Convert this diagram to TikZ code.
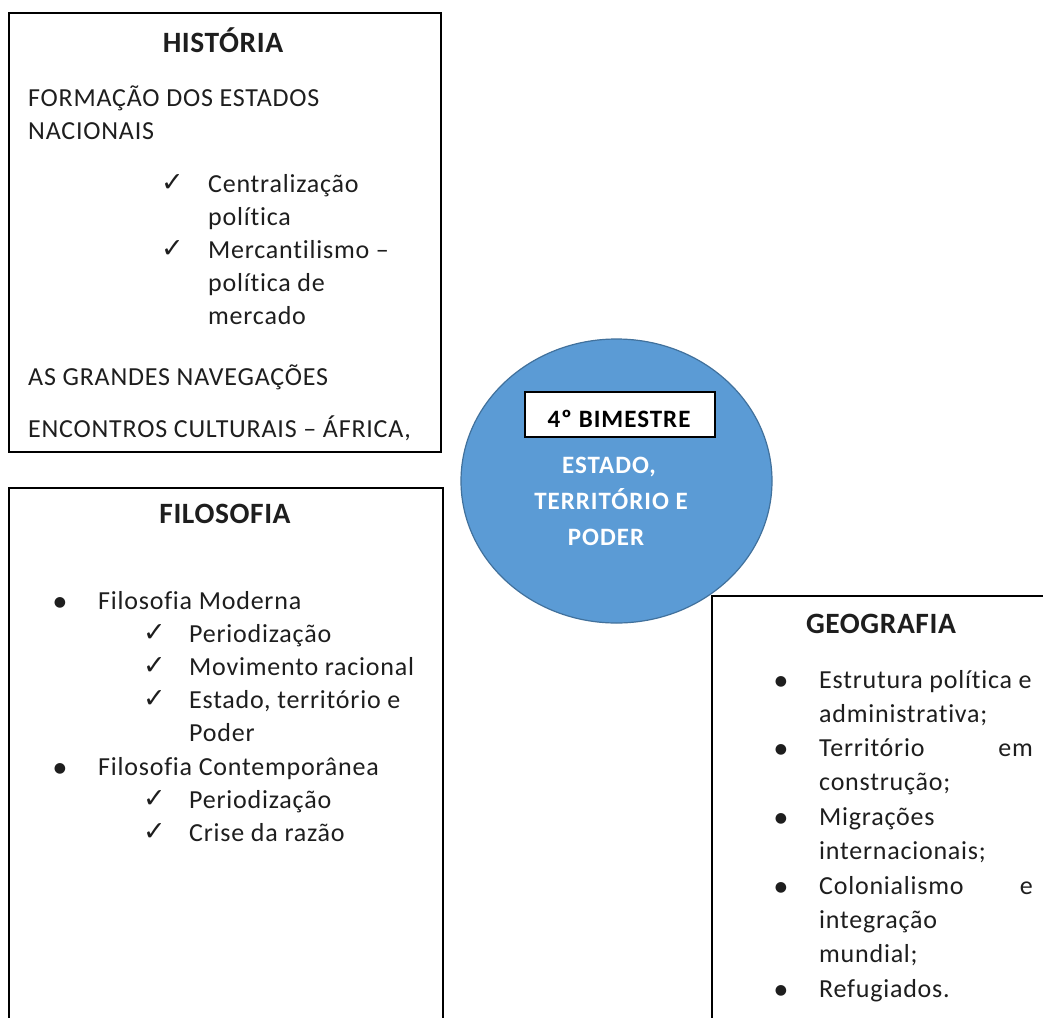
\documentclass[tikz,border=0pt]{standalone}
\usepackage{fontspec}
\usetikzlibrary{shapes.geometric}
\setmainfont{Carlito}
\newfontfamily\bodyfont[LetterSpace=3,Ligatures=NoCommon]{Carlito}
\newfontfamily\ttlfont[LetterSpace=2]{Carlito}
\newfontfamily\ctrfont[LetterSpace=4]{Carlito}
\newfontfamily\symfont{DejaVu Sans}
\definecolor{circfill}{HTML}{5B9BD5}
\definecolor{circline}{HTML}{41719C}
\definecolor{ink}{HTML}{1E1E1E}
\begin{document}
\begin{tikzpicture}[x=1pt,y=-1pt,
  body/.style={anchor=base west,inner sep=0pt,text=ink,font=\bodyfont\fontsize{26}{30}\selectfont},
  bodyr/.style={anchor=base east,inner sep=0pt,text=ink,font=\bodyfont\fontsize{26}{30}\selectfont},
  ttl/.style={anchor=base,inner sep=0pt,text=ink,font=\ttlfont\fontsize{29.5}{34}\selectfont\bfseries},
  chk/.style={anchor=base west,inner sep=0pt,text=ink,font=\symfont\fontsize{27}{30}\selectfont},
  bul/.style={anchor=center,inner sep=0pt,text=ink,font=\symfont\fontsize{14}{16}\selectfont},
  panel/.style={draw=black,line width=2pt,fill=white},
  ctr/.style={anchor=base,inner sep=0pt,font=\ctrfont\fontsize{25}{28}\selectfont\bfseries}]
\clip (0,0) rectangle (1043,1017);
\fill[white] (0,0) rectangle (1043,1017);

% ---------------- HISTORIA ----------------
\draw[panel] (9,12.5) rectangle (441,451.5);
\node[ttl] (histT) at (223,52) {HISTÓRIA};
\node[body] (h1) at (28,106) {FORMAÇÃO DOS ESTADOS};
\node[body] (h2) at (28,139) {NACIONAIS};
\node[chk] (hc1) at (161,191) {✓};
\node[body] (h3) at (208,192) {Centralização};
\node[body] (h4) at (208,225) {política};
\node[chk] (hc2) at (161,257) {✓};
\node[body] (h5) at (208,258) {Mercantilismo –};
\node[body] (h6) at (208,291) {política de};
\node[body] (h7) at (208,324) {mercado};
\node[body] (h8) at (28,385) {AS GRANDES NAVEGAÇÕES};
\node[body] (h9) at (28,437) {ENCONTROS CULTURAIS – ÁFRICA,};

% ---------------- FILOSOFIA ----------------
\draw[panel] (9,488) rectangle (443,1040);
\node[ttl] (filT) at (225,523) {FILOSOFIA};
\node[bul] (fb1) at (60,603) {●};
\node[body] (f1) at (98,609) {Filosofia Moderna};
\node[chk] (fc1) at (143,641) {✓};
\node[body] (f2) at (189,642) {Periodização};
\node[chk] (fc2) at (143,674) {✓};
\node[body] (f3) at (189,675) {Movimento racional};
\node[chk] (fc3) at (143,707) {✓};
\node[body] (f4) at (189,708) {Estado, território e};
\node[body] (f5) at (189,741) {Poder};
\node[bul] (fb2) at (60,769) {●};
\node[body] (f6) at (98,775) {Filosofia Contemporânea};
\node[chk] (fc4) at (143,807) {✓};
\node[body] (f7) at (189,808) {Periodização};
\node[chk] (fc5) at (143,840) {✓};
\node[body] (f8) at (189,841) {Crise da razão};

% ---------------- CIRCLE ----------------
\node[draw=circline,fill=circfill,line width=1.2pt,ellipse,minimum width=311pt,minimum height=284pt,inner sep=0pt] (circ) at (616.5,481) {};
\draw[draw=black,line width=2pt,fill=white] (525,392) rectangle (715,437);
\node[ctr,text=black] (bim) at (619,427) {4º BIMESTRE};
\node[ctr,text=white] (c1) at (609,473) {ESTADO,};
\node[ctr,text=white] (c2) at (611,509) {TERRITÓRIO E};
\node[ctr,text=white] (c3) at (606,545) {PODER};

% ---------------- GEOGRAFIA ----------------
\draw[panel] (712,595.5) rectangle (1060,1040);
\node[ttl] (geoT) at (881,633) {GEOGRAFIA};
\node[bul] (gb1) at (781,682) {●};
\node[body] (g1) at (819,688) {Estrutura política e};
\node[body] (g2) at (819,722) {administrativa;};
\node[bul] (gb2) at (781,750) {●};
\node[body] (g3) at (819,756) {Território};
\node[bodyr] (g3r) at (1033,756) {em};
\node[body] (g4) at (819,790) {construção;};
\node[bul] (gb3) at (781,819) {●};
\node[body] (g5) at (819,825) {Migrações};
\node[body] (g6) at (819,859) {internacionais;};
\node[bul] (gb4) at (781,888) {●};
\node[body] (g7) at (819,894) {Colonialismo};
\node[bodyr] (g7r) at (1033,894) {e};
\node[body] (g8) at (819,928) {integração};
\node[body] (g9) at (819,962) {mundial;};
\node[bul] (gb5) at (781,991) {●};
\node[body] (g10) at (819,997) {Refugiados.};
\end{tikzpicture}
\end{document}
